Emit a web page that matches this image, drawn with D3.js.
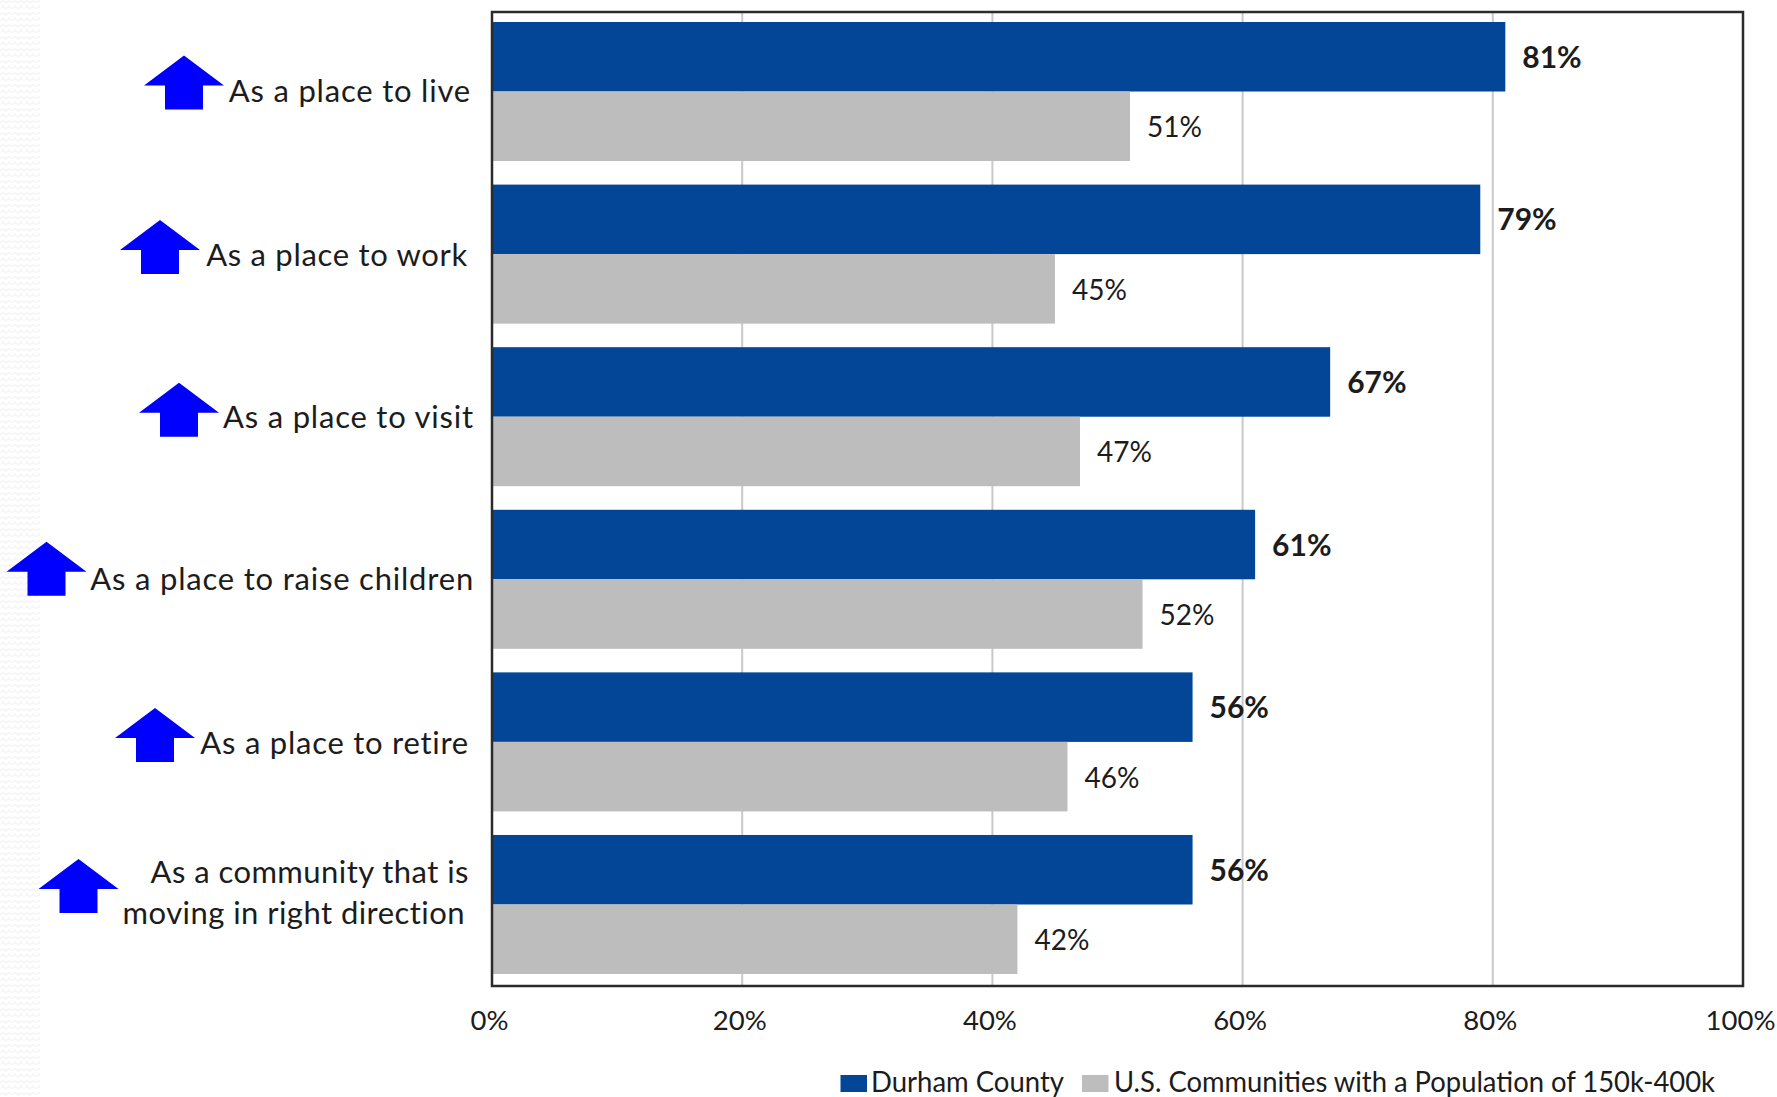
<!DOCTYPE html>
<html><head><meta charset="utf-8">
<script src="https://cdn.jsdelivr.net/npm/d3@7/dist/d3.min.js"></script>
<style>html,body{margin:0;padding:0;background:#fff}svg{display:block}text{font-family:Lato,"Open Sans",sans-serif;fill:#1c1c1c}</style>
</head><body><svg id="c" width="1777" height="1097"></svg>
<script>
const categories=["As a place to live","As a place to work","As a place to visit","As a place to raise children","As a place to retire","As a community that is\nmoving in right direction"];
const durham=[81,79,67,61,56,56];
const communities=[51,45,47,52,46,42];
const seriesNames=["Durham County","U.S. Communities with a Population of 150k-400k"];
const xTicks=[0,20,40,60,80,100];
const colors=["#034698","#bdbdbd"];
// layout of hand-placed annotations
const labelRight=[471,468,474,474,469,469];
const labelSpacing=[0.8,0.7,0.8,0.8,0.75,0.45];
const labelDy=[10.5,12,11,11,12,0];
const arrowCx=[184,160,179,46.5,155,78.5];
const arrowTipOffset=[-36,-34,-34,-37.5,-34,-45.5];

const svg=d3.select("#c");
const m={l:492,r:1743,t:12,b:986};
const x=d3.scaleLinear().domain([0,100]).range([m.l,m.r]);
const y=d3.scaleBand().domain(categories).range([22,974]).paddingInner(0.145).paddingOuter(0);
const sub=d3.scaleBand().domain([0,1]).range([0,y.bandwidth()]);

// faint left strip
const defs=svg.append("defs");
const pat=defs.append("pattern").attr("id","strip").attr("width",12).attr("height",12).attr("patternUnits","userSpaceOnUse");
pat.append("path").attr("d","M0 3 L3 0 L6 3 L9 0 L12 3 M0 9 L3 6 L6 9 L9 6 L12 9").attr("fill","none").attr("stroke","#f6f6f6").attr("stroke-width",1.5);
svg.append("rect").attr("width",40).attr("height",1097).attr("fill","url(#strip)");

// gridlines
svg.append("g").selectAll("line").data(xTicks.slice(1,-1)).join("line")
 .attr("x1",d=>x(d)).attr("x2",d=>x(d)).attr("y1",m.t).attr("y2",m.b)
 .attr("stroke","#c9c9c9").attr("stroke-width",2);

// bars
const series=[durham,communities];
series.forEach((vals,si)=>{
 svg.append("g").selectAll("rect").data(vals).join("rect")
  .attr("x",x(0)).attr("y",(d,i)=>y(categories[i])+sub(si))
  .attr("width",d=>x(d)-x(0)).attr("height",sub.bandwidth()).attr("fill",colors[si]);
 svg.append("g").selectAll("text").data(vals).join("text")
  .attr("x",d=>x(d)+17).attr("y",(d,i)=>y(categories[i])+sub(si)+sub.bandwidth()/2+11)
  .attr("font-size",si?28:30).attr("font-weight",si?400:700).text(d=>d+"%");
});

// frame
svg.append("rect").attr("x",m.l).attr("y",m.t).attr("width",m.r-m.l).attr("height",m.b-m.t)
 .attr("fill","none").attr("stroke","#2b2b2b").attr("stroke-width",2.5);

// x axis
const ax=svg.append("g").attr("transform",`translate(0,${m.b})`)
 .call(d3.axisBottom(x).tickValues(xTicks).tickFormat(d=>d+"%").tickSize(0).tickPadding(24));
ax.select(".domain").remove();
ax.selectAll("text").attr("font-size",27.5).attr("dx",-3).style("font-family","Lato").attr("fill","#1c1c1c");

// category labels
categories.forEach((c,i)=>{
 const cy=y(c)+y.bandwidth()/2;
 const lines=c.split("\n");
 lines.forEach((t,j)=>{
  svg.append("text").attr("text-anchor","end").attr("x",labelRight[i]-(j?4:0))
   .attr("y",lines.length>1?cy-21+j*41:cy+labelDy[i]).attr("font-size",31).attr("letter-spacing",labelSpacing[i]).text(t);
 });
 const cx=arrowCx[i], t0=cy+arrowTipOffset[i];
 svg.append("path").attr("fill","#0000ff")
  .attr("d",d3.line()([[cx,t0],[cx+40,t0+30],[cx+19,t0+30],[cx+19,t0+54],[cx-19,t0+54],[cx-19,t0+30],[cx-40,t0+30]])+"Z");
});

// legend
const legend=svg.append("g");
[[840.5,871,193],[1082,1114,601]].forEach((p,i)=>{
 legend.append("rect").attr("x",p[0]).attr("y",1075).attr("width",26.5).attr("height",17).attr("fill",colors[i]);
 legend.append("text").attr("x",p[1]).attr("y",1092).attr("font-size",28)
  .attr("textLength",p[2]).attr("lengthAdjust","spacingAndGlyphs").text(seriesNames[i]);
});
</script></body></html>
